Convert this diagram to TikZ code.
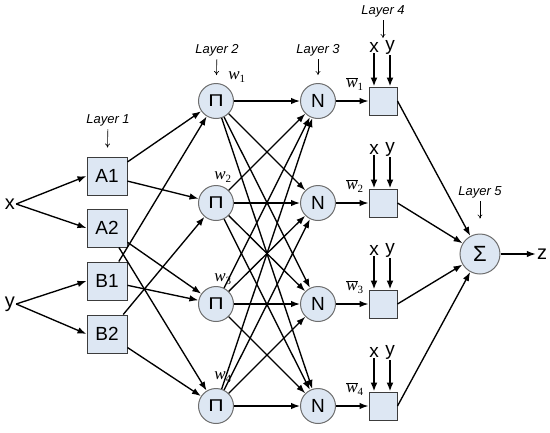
\documentclass[tikz,border=0pt]{standalone}
\usepackage{fontspec}
\setmainfont{Liberation Sans}
\newfontfamily\serifw{Liberation Serif}
\usetikzlibrary{arrows.meta}
\definecolor{fillc}{RGB}{221,231,243}
\definecolor{edgec}{RGB}{60,60,60}
\definecolor{circc}{RGB}{110,110,110}
\newcommand\mywbar[1]{$\overline{\hbox{w}}_{\hbox{\fontsize{11}{11}\selectfont\upshape #1}}$}
\newcommand\mywsub[1]{w$_{\hbox{\fontsize{11}{11}\selectfont\upshape #1}}$}
\begin{document}
\begin{tikzpicture}[x=1pt,y=-1pt,
 box/.style={draw=edgec, line width=1pt, fill=fillc, minimum width=40pt, minimum height=38pt, inner sep=0pt, font=\fontsize{19}{19}\selectfont},
 circ/.style={circle, draw=circc, line width=1pt, fill=fillc, minimum size=35pt, inner sep=0pt, font=\fontsize{19}{19}\selectfont},
 sigc/.style={circ, minimum size=40pt, font=\fontsize{22}{22}\selectfont},
 sq/.style={draw=edgec, line width=1pt, fill=fillc, minimum size=28pt, inner sep=0pt},
 lay/.style={font=\fontsize{13}{13}\selectfont\itshape, inner sep=0pt},
 lbl/.style={font=\fontsize{20}{20}\selectfont, inner sep=1pt},
 xylbl/.style={font=\fontsize{19}{19}\selectfont, inner sep=1pt},
 con/.style={line width=1.35pt, -{Latex[length=9pt,width=6.5pt]}},
 tharr/.style={line width=2.4pt, -{Latex[length=9pt,width=7pt]}},
 layarr/.style={line width=0.6pt, -{To[length=4pt,width=5pt]}},
 wl/.style={font=\serifw\itshape\fontsize{17}{17}\selectfont, inner sep=0pt},
 pi/.style={circ, font=\fontsize{17}{17}\selectfont}
]
\useasboundingbox (0,0) rectangle (550,432);

% inputs
\node[lbl] (x) at (10,204) {x};
\node[lbl] (y) at (10,304) {y};

% layer 1
\node[box] (A1) at (107,176) {A1};
\node[box] (A2) at (107,228) {A2};
\node[box] (B1) at (107,281) {B1};
\node[box] (B2) at (107,334) {B2};
\node[lay] (L1) at (108,120) {Layer 1};

% layers 2, 3, 4
\foreach \i/\yy in {1/101,2/203,3/304,4/406}{
  \node[pi] (P\i) at (216,\yy) {\scalebox{1.25}[1]{Π}};
  \node[circ] (N\i) at (318,\yy) {N};
  \node[sq] (S\i) at (383,\yy) {};
  \node[xylbl] (X\i) at (374,\yy-54) {x};
  \node[xylbl] (Y\i) at (390,\yy-54) {y};
  \node[wl] (WB\i) at (355,\yy-17) {\mywbar{\i}};
}
\node[lay] (L2) at (217,50) {Layer 2};
\node[lay] (L3) at (318,50) {Layer 3};
\node[lay] (L4) at (383,11) {Layer 4};
\coordinate (C4) at (383,38);

\node[wl] (W1) at (237,77) {\mywsub{1}};
\node[wl] (W2) at (223,177) {\mywsub{2}};
\node[wl] (W3) at (223,279) {\mywsub{3}};
\node[wl] (W4) at (223,377) {\mywsub{4}};

% layer 5
\node[sigc] (SG) at (480,254) {Σ};
\node[lay] (L5) at (480,192) {Layer 5};
\node[lbl] (z) at (542,254) {z};

% layer label arrows
\draw[layarr, shorten <=3pt, shorten >=9pt] (L1) -- (A1);
\draw[layarr, shorten <=3pt, shorten >=8pt] (L2) -- (P1);
\draw[layarr, shorten <=3pt, shorten >=8pt] (L3) -- (N1);
\draw[layarr, shorten <=3pt] (L4) -- (C4);
\draw[layarr, shorten <=3pt, shorten >=15pt] (L5) -- (SG);

% inputs to layer 1
\draw[con] (x.east) -- (A1.west);
\draw[con] (x.east) -- (A2.west);
\draw[con] (y.east) -- (B1.west);
\draw[con] (y.east) -- (B2.west);

% layer 1 to layer 2
\draw[con] (A1) -- (P1);
\draw[con] (A1) -- (P2);
\draw[con] (A2) -- (P3);
\draw[con] (A2) -- (P4);
\draw[con] (B1) -- (P1);
\draw[con] (B1) -- (P3);
\draw[con] (B2) -- (P2);
\draw[con] (B2) -- (P4);

% layer 2 to layer 3
\foreach \i in {1,...,4}{
  \foreach \j in {1,...,4}{
    \draw[con] (P\i) -- (N\j);
  }
}

% layer 3 to layer 4 and inputs
\foreach \i in {1,...,4}{
  \draw[con] (N\i) -- (S\i);
  \draw[tharr] (X\i.south) -- (X\i.south |- S\i.north);
  \draw[tharr] (Y\i.south) -- (Y\i.south |- S\i.north);
  \draw[con] (S\i.east) -- (SG);
}

\draw[con] (SG) -- (z);
\end{tikzpicture}
\end{document}
